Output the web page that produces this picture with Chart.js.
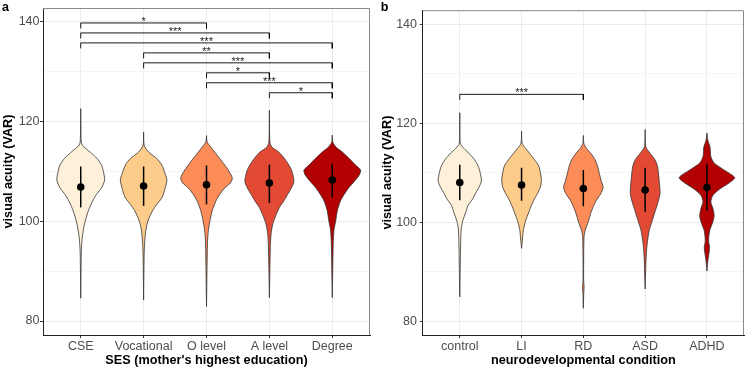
<!DOCTYPE html>
<html>
<head>
<meta charset="utf-8">
<script src="https://cdn.jsdelivr.net/npm/chart.js@4.4.1/dist/chart.umd.min.js"></script>
<style>
  body { margin: 0; background: #fff; }
  #wrap { display: flex; width: 750px; height: 369px; }
  canvas { display: block; }
</style>
</head>
<body>
<div id="wrap">
  <canvas id="chartA" width="375" height="369"></canvas>
  <canvas id="chartB" width="375" height="369"></canvas>
</div>
<script>
// categories
const sesCats = ["CSE", "Vocational", "O level", "A level", "Degree"];
const ndCats = ["control", "LI", "RD", "ASD", "ADHD"];
const fills = ["#FEF0D9", "#FDCC8A", "#FC8D59", "#E34A33", "#B30000"];

// mean and error bar ends
const sesMean = [106.9, 107.1, 107.35, 107.7, 108.3];
const sesLow = [102.8, 103.1, 103.4, 103.7, 104.8];
const sesHigh = [111.0, 111.0, 111.2, 111.4, 111.6];
const ndMean = [108.0, 107.5, 106.8, 106.5, 107.0];
const ndLow = [104.4, 104.3, 103.2, 102.1, 102.3];
const ndHigh = [111.6, 111.0, 110.5, 111.0, 111.8];

// violin outlines: [value, half width]
const vCSE = [[84.6,0],[91.6,0.006],[94.2,0.01],[96.8,0.025],[99.5,0.06],[102.1,0.12],[104.1,0.19],[105.4,0.25],[106.7,0.33],[108.3,0.38],[110.0,0.36],[111.3,0.33],[112.6,0.26],[113.9,0.15],[115.2,0.03],[115.9,0.008],[122.6,0]];
const vVoc = [[84.2,0],[92.9,0.008],[95.5,0.015],[98.2,0.035],[100.1,0.07],[102.1,0.14],[103.4,0.21],[104.7,0.29],[105.7,0.32],[107.0,0.35],[108.3,0.37],[110.0,0.33],[111.3,0.29],[112.6,0.21],[113.9,0.08],[115.2,0.01],[117.9,0]];
const vOlev = [[82.9,0],[95.5,0.015],[98.2,0.03],[100.1,0.055],[102.1,0.09],[104.1,0.15],[105.4,0.21],[106.7,0.29],[107.7,0.38],[108.7,0.41],[110.0,0.36],[111.3,0.29],[112.6,0.21],[113.9,0.13],[115.2,0.05],[115.9,0.01],[117.2,0]];
const vAlev = [[84.7,0],[94.9,0.015],[97.5,0.027],[99.5,0.055],[101.4,0.11],[102.8,0.16],[104.1,0.23],[105.4,0.29],[106.7,0.35],[108.0,0.39],[110.0,0.36],[111.3,0.31],[112.6,0.24],[113.9,0.15],[114.9,0.04],[115.9,0.008],[122.3,0]];
const vDeg = [[84.7,0],[95.5,0.015],[98.2,0.027],[100.1,0.055],[102.1,0.08],[104.1,0.13],[105.4,0.19],[106.7,0.26],[108.0,0.35],[109.3,0.43],[110.3,0.45],[111.3,0.37],[112.6,0.27],[113.9,0.16],[114.9,0.06],[115.9,0.008],[117.3,0]];

const vControl = [[84.9,0],[98.2,0.02],[100.1,0.045],[102.1,0.1],[103.4,0.135],[104.7,0.21],[105.7,0.25],[107.0,0.31],[108.3,0.35],[110.0,0.33],[111.3,0.3],[112.6,0.24],[113.9,0.15],[114.9,0.065],[115.9,0.008],[122.1,0]];
const vLI = [[94.7,0],[96.8,0.016],[98.2,0.027],[99.5,0.048],[100.8,0.08],[102.1,0.12],[103.4,0.16],[104.7,0.21],[106.05,0.27],[107.3,0.31],[108.7,0.32],[111.3,0.28],[112.6,0.21],[113.9,0.13],[114.9,0.064],[115.9,0.01],[118.4,0]];
const vRD = [[82.6,0],[85.5,0.006],[87.0,0.012],[88.5,0.004],[96.8,0.01],[98.2,0.027],[100.1,0.08],[101.8,0.12],[103.1,0.16],[104.4,0.21],[105.7,0.28],[107.0,0.32],[108.3,0.29],[110.0,0.255],[111.3,0.23],[112.6,0.19],[113.9,0.12],[114.9,0.05],[115.9,0.008],[117.5,0]];
const vASD = [[86.5,0],[92.9,0.016],[95.5,0.032],[98.2,0.064],[100.1,0.11],[102.1,0.16],[104.1,0.21],[105.7,0.24],[107.3,0.235],[109.3,0.22],[111.3,0.2],[112.6,0.16],[113.9,0.08],[115.2,0.01],[118.7,0]];
const vADHD = [[90.1,0],[92.3,0.016],[93.6,0.032],[94.9,0.043],[96.2,0.027],[98.2,0.043],[99.5,0.08],[100.5,0.106],[101.4,0.117],[102.8,0.096],[104.1,0.064],[105.4,0.096],[106.7,0.21],[108.0,0.37],[109.0,0.45],[110.6,0.27],[111.9,0.12],[113.2,0.064],[115.2,0.05],[116.5,0.015],[118.0,0]];

// significance brackets: [from, to, height, label]
const sesBrackets = [[1,3,139.8,"*"],[1,4,137.8,"***"],[1,5,135.8,"***"],[2,4,133.8,"**"],[2,5,131.8,"***"],[3,4,129.8,"*"],[3,5,127.8,"***"],[4,5,125.8,"*"]];
const ndBrackets = [[1,3,125.8,"***"]];

const FONT = '"Liberation Sans", Arial, sans-serif';
const tipLen = 1.1;

function buildDatasets(violins, means, lows, highs, brackets) {
  const ds = [];
  violins.forEach((prof, i) => {
    const pos = i + 1;
    const right = prof.map(p => ({ x: pos + p[1], y: p[0] }));
    const left = prof.slice().reverse().map(p => ({ x: pos - p[1], y: p[0] }));
    ds.push({
      data: right.concat(left),
      showLine: true,
      fill: "shape",
      backgroundColor: fills[i],
      borderColor: "#333",
      borderWidth: 0.8,
      pointRadius: 0,
      tension: 0.25,
      order: 4
    });
  });
  means.forEach((m, i) => {
    ds.push({
      data: [{ x: i + 1, y: lows[i] }, { x: i + 1, y: highs[i] }],
      showLine: true,
      borderColor: "#000",
      borderWidth: 1.5,
      pointRadius: 0,
      order: 2
    });
  });
  ds.push({
    data: means.map((m, i) => ({ x: i + 1, y: m })),
    pointRadius: 3.8,
    pointBackgroundColor: "#000",
    pointBorderWidth: 0,
    order: 1
  });
  brackets.forEach(b => {
    ds.push({
      data: [
        { x: b[0], y: b[2] - tipLen }, { x: b[0], y: b[2] },
        { x: b[1], y: b[2] }, { x: b[1], y: b[2] - tipLen }
      ],
      showLine: true,
      borderColor: "#000",
      borderWidth: 0.9,
      pointRadius: 0,
      order: 0
    });
  });
  return ds;
}

const notesPlugin = {
  id: "notes",
  afterDatasetsDraw(chart, args, opts) {
    const { ctx, chartArea: a } = chart;
    const x = chart.scales.x, y = chart.scales.y;
    ctx.save();
    // top and right of the panel frame
    ctx.strokeStyle = "#888";
    ctx.lineWidth = 1;
    ctx.beginPath();
    ctx.moveTo(a.left, a.top + 0.5);
    ctx.lineTo(a.right - 0.5, a.top + 0.5);
    ctx.lineTo(a.right - 0.5, a.bottom);
    ctx.stroke();
    ctx.fillStyle = "#222";
    ctx.font = "11px " + FONT;
    ctx.textAlign = "center";
    ctx.textBaseline = "alphabetic";
    opts.brackets.forEach(b => {
      ctx.fillText(b[3], x.getPixelForValue((b[0] + b[1]) / 2), y.getPixelForValue(b[2]) + 2);
    });
    ctx.fillStyle = "#000";
    ctx.font = "bold 12.5px " + FONT;
    ctx.textAlign = "left";
    ctx.fillText(opts.letter, opts.letterX, 11);
    ctx.restore();
  }
};

function makeChart(id, cats, violins, means, lows, highs, brackets, o) {
  return new Chart(document.getElementById(id), {
    type: "scatter",
    data: { datasets: buildDatasets(violins, means, lows, highs, brackets) },
    options: {
      responsive: false,
      animation: false,
      layout: { padding: { top: 1.7, right: o.padRight, bottom: 0, left: 0 } },
      plugins: {
        legend: { display: false },
        tooltip: { enabled: false },
        notes: { brackets: brackets, letter: o.letter, letterX: o.letterX }
      },
      scales: {
        x: {
          type: "linear",
          min: 0.4,
          max: 5.6,
          afterBuildTicks: s => { s.ticks = cats.map((c, i) => ({ value: i + 1 })); },
          afterFit: s => { s.height = 34; },
          ticks: {
            callback: v => cats[v - 1],
            color: "#4D4D4D",
            font: { family: FONT, size: 12.5 },
            padding: 1,
            maxRotation: 0
          },
          grid: { color: "#EBEBEB", tickColor: "#333", tickLength: 3 },
          border: { display: true, color: "#222" },
          title: {
            display: true,
            text: o.xTitle,
            color: "#000",
            font: { family: FONT, size: 12.7, weight: "bold" },
            padding: { top: 0, bottom: 0.6 }
          }
        },
        y: {
          min: 77.2,
          max: 142.8,
          afterBuildTicks: s => { s.ticks = [80, 90, 100, 110, 120, 130, 140].map(v => ({ value: v })); },
          afterFit: s => { s.width = o.yWidth; },
          ticks: {
            callback: v => (v % 20 === 0 ? v : ""),
            color: "#4D4D4D",
            font: { family: FONT, size: 12.5 },
            padding: o.yPad
          },
          grid: {
            color: c => (c.tick && c.tick.value % 20 === 0 ? "#EBEBEB" : "#F5F5F5"),
            tickColor: c => (c.tick && c.tick.value % 20 === 0 ? "#333" : "rgba(0,0,0,0)"),
            tickLength: 3
          },
          border: { display: true, color: "#222" },
          title: {
            display: true,
            text: "visual acuity (VAR)",
            color: "#000",
            font: { family: FONT, size: 12.7, weight: "bold" },
            padding: { top: o.yTitlePad, bottom: 0 }
          }
        }
      }
    },
    plugins: [notesPlugin]
  });
}

makeChart("chartA", sesCats, [vCSE, vVoc, vOlev, vAlev, vDeg], sesMean, sesLow, sesHigh, sesBrackets,
  { padRight: 5, yWidth: 43, yPad: 0.5, yTitlePad: 0.5, letter: "a", letterX: 2, xTitle: "SES (mother's highest education)" });
makeChart("chartB", ndCats, [vControl, vLI, vRD, vASD, vADHD], ndMean, ndLow, ndHigh, ndBrackets,
  { padRight: 6, yWidth: 47.7, yPad: 2.7, yTitlePad: 5, letter: "b", letterX: 5.7, xTitle: "neurodevelopmental condition" });
</script>
</body>
</html>
